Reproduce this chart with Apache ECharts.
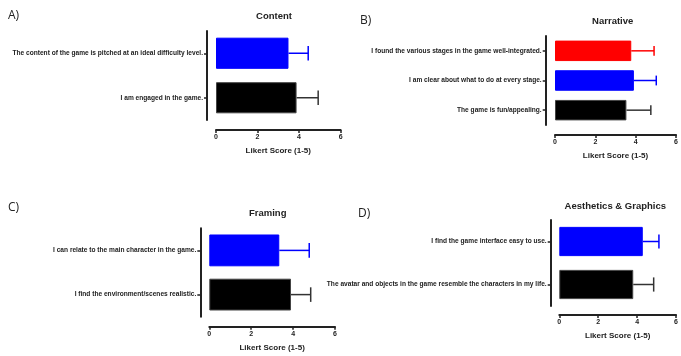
<!DOCTYPE html>
<html><head><meta charset="utf-8">
<script src="https://cdn.jsdelivr.net/npm/echarts@6/dist/echarts.min.js"></script>
<style>html,body{margin:0;padding:0;background:#fff}#c{width:681px;height:356px}</style>
</head><body><div id="c"></div>
<script>
// Panel A: Content
const catsA = ["The content of the game is pitched at an ideal difficulty level.", "I am engaged in the game."];
const meanA = [3.49, 3.88];
const sdA = [0.95, 1.04];
// Panel B: Narrative
const catsB = ["I found the various stages in the game well-integrated.", "I am clear about what to do at every stage.", "The game is fun/appealing."];
const meanB = [3.78, 3.91, 3.54];
const sdB = [1.13, 1.11, 1.21];
// Panel C: Framing
const catsC = ["I can relate to the main character in the game.", "I find the environment/scenes realistic."];
const meanC = [3.34, 3.90];
const sdC = [1.43, 0.94];
// Panel D: Aesthetics & Graphics
const catsD = ["I find the game interface easy to use.", "The avatar and objects in the game resemble the characters in my life."];
const meanD = [4.29, 3.80];
const sdD = [0.83, 1.05];
const xTicks = [0, 2, 4, 6];
const xLabel = "Likert Score (1-5)";
const titles = ["Content", "Narrative", "Framing", "Aesthetics & Graphics"];
const letters = ["A)", "B)", "C)", "D)"];

const FONT = "Liberation Sans, Arial, sans-serif";
const panels = [
  {cats: catsA, mean: meanA, sd: sdA, colors: ['#0000ff', '#000000'], err: ['#0000ff', '#333333'],
   grid: {left: 216, top: 31, width: 124.6, height: 89}, xOff: 10, yOff: 9, gap: '30%',
   title: {x: 274, y: 16}, letter: {x: 8, y: 16}},
  {cats: catsB, mean: meanB, sd: sdB, colors: ['#ff0000', '#0000ff', '#000000'], err: ['#ff0000', '#0000ff', '#333333'],
   grid: {left: 555, top: 36, width: 124.3, height: 89}, xOff: 10, yOff: 9.3, gap: '31%',
   title: {x: 612.7, y: 21}, letter: {x: 360, y: 21}},
  {cats: catsC, mean: meanC, sd: sdC, colors: ['#0000ff', '#000000'], err: ['#0000ff', '#333333'],
   grid: {left: 209.3, top: 228.3, width: 125.7, height: 88.4}, xOff: 10, yOff: 9, gap: '28%',
   title: {x: 267.7, y: 213.3}, letter: {x: 8, y: 207.7}},
  {cats: catsD, mean: meanD, sd: sdD, colors: ['#0000ff', '#000000'], err: ['#0000ff', '#333333'],
   grid: {left: 559.3, top: 220, width: 121.2, height: 86}, xOff: 9, yOff: 8.6, gap: '32%',
   title: {x: 615.3, y: 206}, letter: {x: 358, y: 213.3}}
];

const grid = [], xAxis = [], yAxis = [], series = [], graphic = [];
panels.forEach((p, i) => {
  grid.push(Object.assign({containLabel: false}, p.grid));
  xAxis.push({
    gridIndex: i, type: 'value', min: 0, max: 6, interval: 2, offset: p.xOff,
    axisLine: {show: true, onZero: false, lineStyle: {color: '#222', width: 2}},
    axisTick: {show: true, length: 3, lineStyle: {color: '#222', width: 1.5}},
    axisLabel: {fontFamily: FONT, fontSize: 7, fontWeight: 'bold', color: '#222', margin: 4,
      formatter: v => xTicks.indexOf(v) >= 0 ? String(v) : ''},
    splitLine: {show: false},
    name: xLabel, nameLocation: 'middle', nameGap: 17,
    nameTextStyle: {fontFamily: FONT, fontSize: 8, fontWeight: 'bold', color: '#222'}
  });
  yAxis.push({
    gridIndex: i, type: 'category', data: p.cats, inverse: true, offset: p.yOff,
    axisLine: {show: true, onZero: false, lineStyle: {color: '#222', width: 2}},
    axisTick: {show: true, length: 3, alignWithLabel: true, lineStyle: {color: '#222', width: 1.5}},
    axisLabel: {fontFamily: FONT, fontSize: 6.6, fontWeight: 'bold', color: '#222', margin: 4},
    splitLine: {show: false}
  });
  series.push({
    type: 'bar', xAxisIndex: i, yAxisIndex: i, barCategoryGap: p.gap,
    data: p.mean.map((v, k) => ({value: v, itemStyle: {color: p.colors[k], borderColor: k === p.colors.length - 1 ? '#444' : p.colors[k], borderWidth: 1}})),
    z: 3
  });
  series.push({
    type: 'custom', xAxisIndex: i, yAxisIndex: i, z: 2,
    data: p.mean.map((v, k) => [v, p.sd[k], k]),
    encode: {x: 0, y: 2},
    renderItem: (params, api) => {
      const m = api.value(0), s = api.value(1), c = api.value(2);
      const a = api.coord([m, c]), b = api.coord([m + s, c]);
      const band = api.size([0, 1])[1];
      const h = band * 0.33;
      const col = p.err[c];
      return {type: 'group', children: [
        {type: 'line', shape: {x1: a[0], y1: a[1], x2: b[0], y2: b[1]}, style: {stroke: col, lineWidth: 1.5}},
        {type: 'line', shape: {x1: b[0], y1: b[1] - h / 2, x2: b[0], y2: b[1] + h / 2}, style: {stroke: col, lineWidth: 1.5}}
      ]};
    }
  });
  graphic.push({type: 'text', x: p.title.x, y: p.title.y,
    style: {text: titles[i], fontFamily: FONT, fontSize: 9.5, fontWeight: 'bold', fill: '#222', align: 'center', verticalAlign: 'middle'}});
  graphic.push({type: 'text', x: p.letter.x, y: p.letter.y,
    style: {text: letters[i], fontFamily: "Open Sans, " + FONT, fontSize: 12, fill: '#222', align: 'left', verticalAlign: 'middle'}});
});

const chart = echarts.init(document.getElementById('c'), null, {renderer: 'canvas'});
chart.setOption({animation: false, backgroundColor: '#fff', grid, xAxis, yAxis, series, graphic});
</script></body></html>
